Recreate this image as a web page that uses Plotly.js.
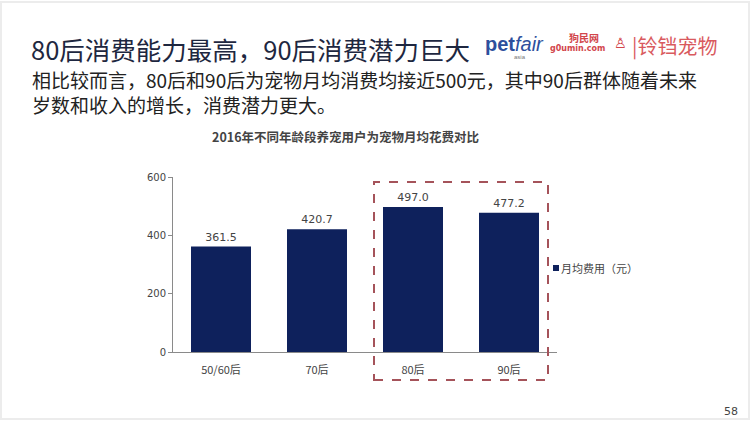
<!DOCTYPE html>
<html><head><meta charset="utf-8">
<script src="https://cdn.plot.ly/plotly-3.0.1.min.js"></script>
<style>html,body{margin:0;padding:0;background:#fff;}#chart{width:750px;height:422px;}</style>
</head><body><div id="chart"></div>
<script>
const categories = ['50/60后', '70后', '80后', '90后'];
const values = [361.5, 420.7, 497.0, 477.2];
const seriesName = '月均费用（元）';
const yTicks = [0, 200, 400, 600];
const chartTitle = '2016年不同年龄段养宠用户为宠物月均花费对比';
const slideTitle = '80后消费能力最高，90后消费潜力巨大';
const slideText1 = '相比较而言，80后和90后为宠物月均消费均接近500元，其中90后群体随着未来';
const slideText2 = '岁数和收入的增长，消费潜力更大。';
const pageNo = '58';

const F = '"Noto Sans CJK SC", "Noto Sans", sans-serif';
const W = 750, H = 422, L = 173, R = 193, T = 177, B = 70;
const px = x => (x - L) / (W - L - R);
const py = y => (H - B - y) / (H - T - B);
const BAR = '#0e215c';

const trace = {
  type: 'bar', x: categories, y: values, name: seriesName,
  marker: {color: BAR},
  text: values.map(v => v.toFixed(1)), textposition: 'outside',
  textfont: {family: 'DejaVu Sans, sans-serif', size: 11, color: '#444'},
  cliponaxis: false, showlegend: false, hoverinfo: 'none'
};

const layout = {
  width: W, height: H,
  margin: {l: L, r: R, t: T, b: B},
  paper_bgcolor: '#fff', plot_bgcolor: '#fff',
  font: {family: F, color: '#444'},
  bargap: 0.375,
  showlegend: false,
  xaxis: {type: 'category', showline: true, linecolor: '#8a8a8a', linewidth: 1,
    ticks: 'outside', ticklen: 8, tickcolor: 'rgba(0,0,0,0)',
    tickfont: {family: F, size: 11, color: '#444'}, showgrid: false, fixedrange: true},
  yaxis: {range: [0, 600], tickvals: yTicks, showline: true, linecolor: '#8a8a8a', linewidth: 1,
    ticks: 'outside', ticklen: 4, tickcolor: '#8a8a8a', showgrid: false, zeroline: false,
    tickfont: {family: 'DejaVu Sans, sans-serif', size: 10, color: '#444'}, fixedrange: true},
  shapes: [
    {type: 'rect', xref: 'paper', yref: 'paper', x0: px(374), x1: px(548), y0: py(380), y1: py(182),
      line: {color: '#a5535a', width: 2, dash: 'dash'}},
    {type: 'rect', xref: 'paper', yref: 'paper', x0: px(553), x1: px(559), y0: py(271), y1: py(265),
      fillcolor: BAR, line: {width: 0}},
    {type: 'rect', xref: 'paper', yref: 'paper', x0: px(1), x1: px(749), y0: py(419), y1: py(2),
      line: {color: '#ececec', width: 2}}
  ],
  annotations: [
    {text: slideTitle, xref: 'paper', yref: 'paper', x: px(29), y: py(48), xanchor: 'left', yanchor: 'middle',
      showarrow: false, font: {family: F, size: 25.5, color: '#1e2740'}},
    {text: slideText1 + '<br>' + slideText2, xref: 'paper', yref: 'paper', x: px(30), y: py(92), xanchor: 'left', yanchor: 'middle',
      align: 'left', showarrow: false, font: {family: F, size: 19, color: '#222'}},
    {text: '<b>' + chartTitle + '</b>', xref: 'paper', yref: 'paper', x: px(345), y: py(136), xanchor: 'center', yanchor: 'middle',
      showarrow: false, font: {family: F, size: 12.5, color: '#444'}},
    {text: seriesName, xref: 'paper', yref: 'paper', x: px(559), y: py(268), xanchor: 'left', yanchor: 'middle',
      showarrow: false, font: {family: F, size: 11, color: '#444'}},
    {text: '<b>pet</b><i>fair</i>', xref: 'paper', yref: 'paper', x: px(483), y: py(44), xanchor: 'left', yanchor: 'middle',
      showarrow: false, font: {family: 'Liberation Sans, sans-serif', size: 20, color: '#2d4f9c'}},
    {text: 'asia', xref: 'paper', yref: 'paper', x: px(520), y: py(57), xanchor: 'center', yanchor: 'middle',
      showarrow: false, font: {family: 'Liberation Sans, sans-serif', size: 6, color: '#777'}},
    {text: '<b>狗民网</b>', xref: 'paper', yref: 'paper', x: px(584), y: py(37), xanchor: 'center', yanchor: 'middle',
      showarrow: false, font: {family: F, size: 10, color: '#d2454b'}},
    {text: '<b>g0umin.com</b>', xref: 'paper', yref: 'paper', x: px(577), y: py(49), xanchor: 'center', yanchor: 'middle',
      showarrow: false, font: {family: 'DejaVu Sans, sans-serif', size: 8, color: '#d2454b'}},
    {text: '♙', xref: 'paper', yref: 'paper', x: px(620), y: py(43), xanchor: 'center', yanchor: 'middle',
      showarrow: false, font: {family: 'DejaVu Sans, sans-serif', size: 14, color: '#d2454b'}},
    {text: '|铃铛宠物', xref: 'paper', yref: 'paper', x: px(630), y: py(45), xanchor: 'left', yanchor: 'middle',
      showarrow: false, font: {family: F, size: 20, color: '#d95a5e'}},
    {text: pageNo, xref: 'paper', yref: 'paper', x: px(740), y: py(411), xanchor: 'right', yanchor: 'middle',
      showarrow: false, font: {family: 'DejaVu Sans, sans-serif', size: 11, color: '#444'}}
  ]
};

Plotly.newPlot('chart', [trace], layout, {displayModeBar: false, staticPlot: true});
</script></body></html>
